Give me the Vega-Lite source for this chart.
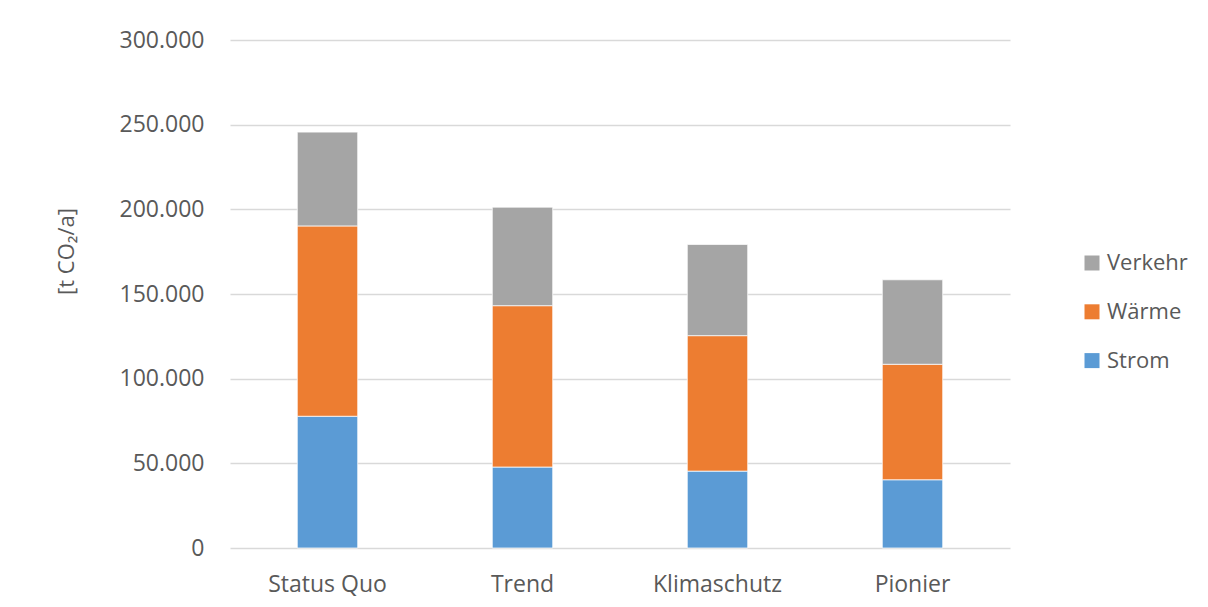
{
  "$schema": "https://vega.github.io/schema/vega-lite/v6.json",
  "width": 780,
  "height": 508,
  "autosize": {"type": "none"},
  "padding": {"left": 230, "top": 40, "right": 198, "bottom": 59},
  "background": "#ffffff",
  "config": {
    "view": {"stroke": null},
    "font": "Open Sans",
    "axis": {"labelColor": "#595959", "titleColor": "#595959", "labelFont": "Open Sans", "titleFont": "Open Sans"},
    "legend": {"labelColor": "#595959", "labelFont": "Open Sans"}
  },
  "data": {
    "values": [
      {"Szenario": "Status Quo", "Sektor": "Strom", "Emissionen": 77800},
      {"Szenario": "Status Quo", "Sektor": "Wärme", "Emissionen": 112400},
      {"Szenario": "Status Quo", "Sektor": "Verkehr", "Emissionen": 55400},
      {"Szenario": "Trend", "Sektor": "Strom", "Emissionen": 47800},
      {"Szenario": "Trend", "Sektor": "Wärme", "Emissionen": 95300},
      {"Szenario": "Trend", "Sektor": "Verkehr", "Emissionen": 58200},
      {"Szenario": "Klimaschutz", "Sektor": "Strom", "Emissionen": 45400},
      {"Szenario": "Klimaschutz", "Sektor": "Wärme", "Emissionen": 80000},
      {"Szenario": "Klimaschutz", "Sektor": "Verkehr", "Emissionen": 53900},
      {"Szenario": "Pionier", "Sektor": "Strom", "Emissionen": 40300},
      {"Szenario": "Pionier", "Sektor": "Wärme", "Emissionen": 68200},
      {"Szenario": "Pionier", "Sektor": "Verkehr", "Emissionen": 49900}
    ]
  },
  "transform": [
    {"calculate": "indexof(['Strom', 'Wärme', 'Verkehr'], datum.Sektor)", "as": "Stapelfolge"}
  ],
  "mark": {"type": "bar", "stroke": "#ffffff", "strokeWidth": 0.75},
  "encoding": {
    "x": {
      "field": "Szenario",
      "type": "nominal",
      "sort": ["Status Quo", "Trend", "Klimaschutz", "Pionier"],
      "scale": {"paddingInner": 0.69, "paddingOuter": 0.345},
      "axis": {
        "title": null,
        "labelAngle": 0,
        "labelFontSize": 23,
        "labelPadding": 25,
        "ticks": false,
        "domain": false,
        "grid": false
      }
    },
    "y": {
      "field": "Emissionen",
      "type": "quantitative",
      "stack": "zero",
      "scale": {"domain": [0, 300000], "nice": false},
      "axis": {
        "title": "[t CO₂/a]",
        "titleFontSize": 22,
        "titleFontWeight": "normal",
        "titleX": -152,
        "titleY": 211,
        "values": [0, 50000, 100000, 150000, 200000, 250000, 300000],
        "labelExpr": "replace(format(datum.value, ','), ',', '.')",
        "labelFontSize": 23,
        "labelPadding": 26,
        "ticks": false,
        "domain": false,
        "grid": true,
        "gridColor": "#D9D9D9",
        "gridWidth": 1.5
      }
    },
    "order": {"field": "Stapelfolge", "type": "quantitative", "sort": "ascending"},
    "color": {
      "field": "Sektor",
      "type": "nominal",
      "scale": {
        "domain": ["Verkehr", "Wärme", "Strom"],
        "range": ["#A5A5A5", "#ED7D31", "#5B9BD5"]
      },
      "legend": {
        "title": null,
        "orient": "none",
        "legendX": 851,
        "legendY": 212,
        "symbolType": "square",
        "symbolSize": 225,
        "symbolStrokeWidth": 0,
        "labelFontSize": 22,
        "labelOffset": 4,
        "rowPadding": 26.8
      }
    }
  }
}
